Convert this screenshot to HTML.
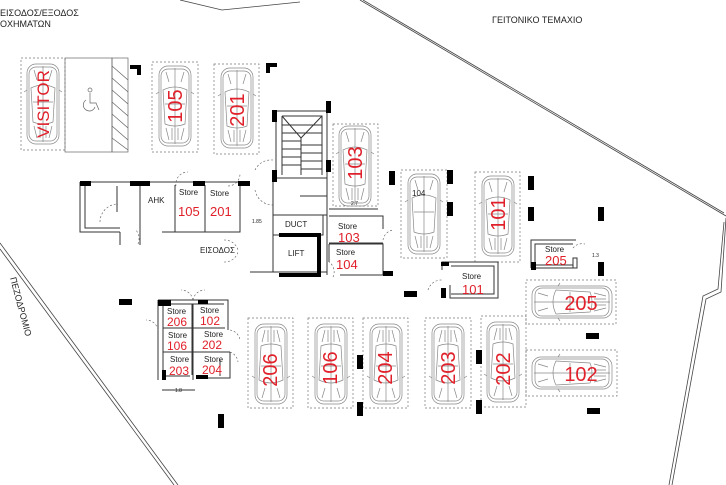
<!DOCTYPE html>
<html><head><meta charset="utf-8"><style>
html,body{margin:0;padding:0;background:#fff;}
svg{display:block;font-family:"Liberation Sans","DejaVu Sans",sans-serif;}
.r{fill:#e0202a;}
.k{fill:#222;}
</style></head><body>
<svg width="726" height="485" viewBox="0 0 726 485" xmlns="http://www.w3.org/2000/svg">
<defs>
<g id="car" fill="none" stroke="#888" stroke-width="0.7">
<rect x="2" y="2" width="32" height="80" rx="9"/>
<rect x="4" y="5" width="28" height="74" rx="7"/>
<path d="M6 26 Q18 20 30 26 L28 60 Q18 64 8 60 Z"/>
<line x1="18" y1="4" x2="18" y2="80"/>
<line x1="8" y1="40" x2="28" y2="40"/>
<path d="M2 28 L-1 30 M34 28 L37 30"/>
<path d="M9 64 L12 76 M15 64 L15 76 M21 64 L21 76 M27 64 L24 76"/>
<path d="M9 8 L12 18 M27 8 L24 18"/>
</g>
<g id="pil"><rect width="6" height="14" fill="#000"/></g>
<g id="pih"><rect width="13" height="6" fill="#000"/></g>
</defs>

<!-- boundary -->
<g fill="none" stroke="#444" stroke-width="0.8">
<polyline points="180,0 222,10 300,2"/>
<polyline points="360,0 726,216"/>
<polyline points="363,0 724,213"/>
<polyline points="726,218 721,292 706,299 672,485"/>
<polyline points="724,222 718,289 703,296 669,485"/>
<line x1="0" y1="243" x2="178" y2="485"/>
<line x1="0" y1="249" x2="174" y2="485"/>
</g>

<text x="0" y="16" font-size="9" class="k">ΕΙΣΟΔΟΣ/ΕΞΟΔΟΣ</text>
<text x="0" y="27" font-size="9" class="k">ΟΧΗΜΑΤΩΝ</text>
<text x="492" y="23" font-size="9" class="k">ΓΕΙΤΟΝΙΚΟ ΤΕΜΑΧΙΟ</text>
<text transform="translate(10,278) rotate(75)" font-size="9" class="k">ΠΕΖΟΔΡΟΜΙΟ</text>

<!-- dashed boxes -->
<g fill="none" stroke="#777" stroke-width="0.7" stroke-dasharray="2,2">
<rect x="21" y="58" width="44" height="92"/>
<rect x="152" y="62" width="46" height="90"/>
<rect x="214" y="64" width="45" height="90"/>
<rect x="333" y="124" width="45" height="82"/>
<rect x="401" y="170" width="46" height="88"/>
<rect x="475" y="172" width="45" height="90"/>
<rect x="248" y="318" width="45" height="90"/>
<rect x="308" y="318" width="45" height="90"/>
<rect x="363" y="318" width="45" height="90"/>
<rect x="425" y="318" width="46" height="90"/>
<rect x="481" y="316" width="45" height="91"/>
<rect x="526" y="280" width="90" height="44"/>
<rect x="526" y="350" width="91" height="46"/>
</g>

<!-- accessible bay -->
<g fill="none" stroke="#666" stroke-width="0.7">
<rect x="65" y="58" width="47" height="94"/>
<rect x="112" y="58" width="16" height="94"/>
<path d="M112 66 L128 80 M112 78 L128 92 M112 90 L128 104 M112 102 L128 116 M112 114 L128 128 M112 126 L128 140 M112 138 L128 150"/>
<circle cx="90" cy="90" r="2"/>
<path d="M90 93 L90 103 L96 103 L99 110 M86 100 A6 6 0 1 0 95 107"/>
</g>

<!-- cars vertical -->
<use href="#car" x="25" y="62"/>
<use href="#car" x="157" y="64"/>
<use href="#car" x="219" y="66"/>
<use href="#car" x="337" y="124"/>
<use href="#car" x="406" y="172"/>
<use href="#car" x="480" y="174"/>
<use href="#car" x="253" y="322" transform="rotate(180 271 364)"/>
<use href="#car" x="313" y="322" transform="rotate(180 331 364)"/>
<use href="#car" x="368" y="322" transform="rotate(180 386 364)"/>
<use href="#car" x="430" y="322" transform="rotate(180 448 364)"/>
<use href="#car" x="485" y="320" transform="rotate(180 503 362)"/>
<use href="#car" x="0" y="0" transform="translate(530,320) rotate(-90)"/>
<use href="#car" x="0" y="0" transform="translate(530,391) rotate(-90)"/>

<!-- car labels -->
<g class="r" font-size="20" text-anchor="middle">
<text transform="translate(49,104) rotate(-90)" font-size="17">VISITOR</text>
<text transform="translate(182,106) rotate(-90)">105</text>
<text transform="translate(244,110) rotate(-90)">201</text>
<text transform="translate(362,163) rotate(-90)">103</text>
<text transform="translate(505,214) rotate(-90)">101</text>
<text transform="translate(277,370) rotate(-90)">206</text>
<text transform="translate(337,368) rotate(-90)">106</text>
<text transform="translate(392,368) rotate(-90)">204</text>
<text transform="translate(455,368) rotate(-90)">203</text>
<text transform="translate(510,369) rotate(-90)">202</text>
<text x="581" y="310">205</text>
<text x="581" y="381">102</text>
</g>
<text x="412" y="196" font-size="8" class="k">104</text>

<!-- left building -->
<g fill="none" stroke="#333" stroke-width="1">
<path d="M80 182 H240 M80 182 V232 H120 M85 186 V228 H120 M162 232 H240 V185 M175 185 V232 M205 185 V232 M140 186 V232 M117 186 V212"/>
<path d="M120 232 V245 M140 232 V245"/>
</g>
<g fill="none" stroke="#555" stroke-width="0.6" stroke-dasharray="2,2">
<path d="M100 222 A18 18 0 0 1 118 204"/><path d="M138 244 A14 14 0 0 0 136 230"/>
<path d="M176 186 A12 12 0 0 1 188 172"/><path d="M228 186 A12 12 0 0 0 240 174"/>
<path d="M255 170 A18 18 0 0 1 273 160"/><path d="M255 190 A18 18 0 0 0 273 205"/>
<path d="M224 240 A14 14 0 0 1 238 250"/><path d="M224 262 A14 14 0 0 0 238 252"/>
<path d="M383 240 A12 12 0 0 1 393 230"/><path d="M333 277 A12 12 0 0 0 329 262"/>
<path d="M428 290 A14 14 0 0 1 442 280"/>
<path d="M573 248 A12 12 0 0 1 585 244"/>
</g>
<g fill="#000">
<rect x="80" y="181" width="11" height="5"/><rect x="130" y="181" width="20" height="5"/>
<rect x="193" y="181" width="12" height="5"/><rect x="238" y="181" width="12" height="5"/>
<rect x="130" y="65" width="11" height="4"/><rect x="137" y="65" width="4" height="10"/>
<rect x="266" y="63" width="11" height="4"/><rect x="266" y="63" width="4" height="10"/>
</g>
<text x="148" y="203" font-size="8" class="k">AHK</text>
<text x="179" y="195" font-size="8" class="k">Store</text>
<text x="210" y="196" font-size="8" class="k">Store</text>
<text x="178" y="216" font-size="13" class="r">105</text>
<text x="210" y="216" font-size="13" class="r">201</text>
<text x="252" y="223" font-size="5" class="k">1.85</text>
<text x="200" y="253" font-size="8" class="k">ΕΙΣΟΔΟΣ</text>

<!-- stair core -->
<g fill="none" stroke="#333" stroke-width="1">
<rect x="276" y="111" width="51" height="67"/>
<path d="M282 116 H322 V175 M282 116 V175 M282 116 L301 138 L322 116 M301 138 V175"/>
<path d="M282 125 H301 M282 133 H301 M282 141 H301 M282 149 H301 M282 157 H301 M282 165 H301 M301 145 H322 M301 153 H322 M301 161 H322 M301 169 H322 M301 125 L322 125 M301 133 H322"/>
<path d="M273 178 V215 H327 M327 103 V275 M273 215 V272 M300 196 H327 V215"/>
<rect x="273" y="215" width="50" height="20"/>
<path d="M250 272 H327"/>
</g>
<path d="M279 235 H319 V275 H279" fill="none" stroke="#000" stroke-width="4"/>
<g fill="#000"><rect x="272" y="110" width="5" height="12"/><rect x="326" y="101" width="5" height="12"/><rect x="326" y="160" width="5" height="12"/><rect x="272" y="170" width="5" height="12"/></g>
<text x="285" y="227" font-size="8" class="k">DUCT</text>
<text x="288" y="256" font-size="8" class="k">LIFT</text>

<!-- store 103/104 -->
<g fill="none" stroke="#333" stroke-width="1">
<path d="M329 216 H383 V229 M329 243 H383 M329 244 H383 V275 H340 M383 253 V275 M329 244 V262"/>
<path d="M329 209 H378"/>
</g>
<rect x="383" y="271" width="10" height="5" fill="#000"/>
<text x="338" y="229" font-size="8" class="k">Store</text>
<text x="338" y="242" font-size="13" class="r">103</text>
<text x="336" y="255" font-size="8" class="k">Store</text>
<text x="336" y="269" font-size="13" class="r">104</text>
<text x="351" y="205" font-size="5" class="k">2.7</text>

<!-- store 101 -->
<g fill="none" stroke="#333" stroke-width="1">
<path d="M442 270 V262 H498 V298 H450 V285 M451 266 H494 V294 H451"/>
</g>
<rect x="441" y="262" width="8" height="4" fill="#000"/><rect x="441" y="288" width="5" height="10" fill="#000"/>
<text x="462" y="279" font-size="8" class="k">Store</text>
<text x="462" y="294" font-size="13" class="r">101</text>

<!-- store 205 -->
<g fill="none" stroke="#333" stroke-width="1">
<path d="M531 268 V240 H576 M535 268 V244 H573 M531 268 H573 M535 265 H573"/>
<rect x="573" y="258" width="4" height="10"/>
</g>
<rect x="531" y="262" width="5" height="8" fill="#000"/>
<text x="545" y="252" font-size="8" class="k">Store</text>
<text x="545" y="265" font-size="13" class="r">205</text>
<text x="592" y="257" font-size="5" class="k">1.3</text>

<!-- store cluster -->
<g fill="none" stroke="#333" stroke-width="1">
<path d="M158 300 H228 V330 M162 304 H224 M158 300 V380 M163 304 V376 H190 M193 304 V380 M192 304 V375 M163 328 H225 M163 352 H230 M230 352 V378 H196 M220 360 V376"/>
<path d="M162 390 H195"/>
</g>
<g fill="#000"><rect x="158" y="300" width="10" height="4"/><rect x="198" y="300" width="10" height="4"/><rect x="162" y="370" width="4" height="10"/><rect x="196" y="375" width="12" height="4"/></g>
<g fill="none" stroke="#555" stroke-width="0.6" stroke-dasharray="2,2"><path d="M193 300 A12 12 0 0 0 181 290"/><path d="M193 300 A12 12 0 0 1 205 290"/><path d="M158 330 A12 12 0 0 0 146 320"/><path d="M230 330 A12 12 0 0 1 240 340"/><path d="M230 352 A12 12 0 0 1 238 362"/></g>
<g font-size="8" class="k"><text x="167" y="314">Store</text><text x="200" y="313">Store</text><text x="168" y="338">Store</text><text x="204" y="337">Store</text><text x="170" y="362">Store</text><text x="204" y="362">Store</text></g>
<g font-size="12" class="r"><text x="167" y="326">206</text><text x="200" y="325">102</text><text x="167" y="350">106</text><text x="202" y="349">202</text><text x="169" y="375">203</text><text x="202" y="374">204</text></g>
<text x="175" y="392" font-size="5" class="k">1.8</text>

<!-- pillars -->
<use href="#pih" x="119" y="299"/><use href="#pih" x="158" y="300"/>
<use href="#pih" x="404" y="291"/><use href="#pih" x="586" y="333"/><use href="#pih" x="587" y="408"/>
<use href="#pil" x="218" y="414"/><use href="#pil" x="357" y="402"/><use href="#pil" x="357" y="355"/>
<use href="#pil" x="476" y="350"/><use href="#pil" x="476" y="400"/>
<use href="#pil" x="447" y="170"/><use href="#pil" x="447" y="202"/><use href="#pil" x="389" y="171"/>
<use href="#pil" x="528" y="176"/><use href="#pil" x="528" y="207"/><use href="#pil" x="598" y="207"/>
<use href="#pil" x="598" y="262"/>
</svg>
</body></html>
